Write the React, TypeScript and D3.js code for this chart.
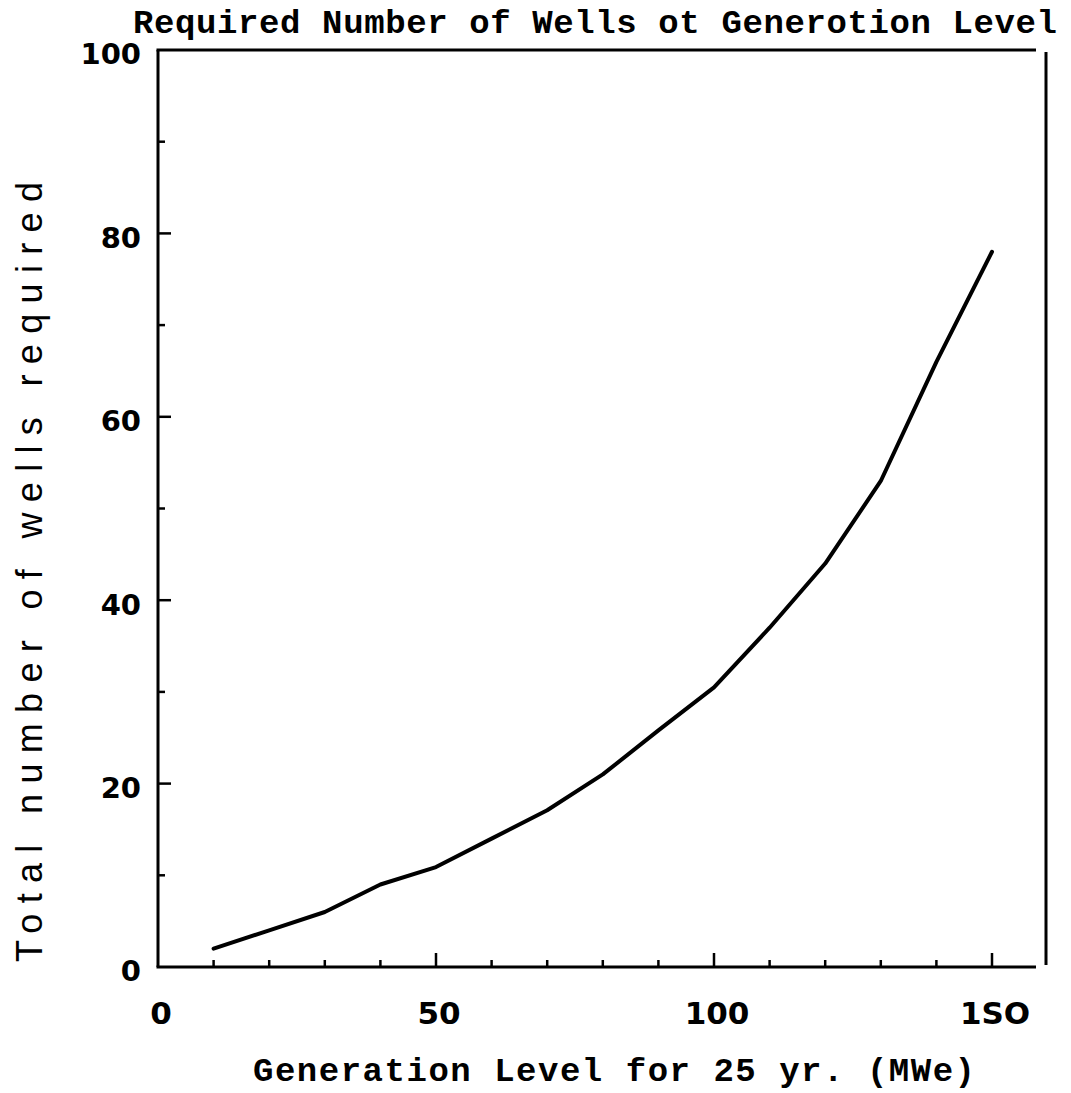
import { useEffect } from 'react';
import * as d3 from 'd3';

// Values (generation level in MWe -> wells required)
const generationLevels = [10, 20, 30, 40, 50, 60, 70, 80, 90, 100, 110, 120, 130, 140, 150];
const wellsRequired = [2.0, 4.0, 6.0, 9.0, 10.9, 14.0, 17.1, 21.0, 25.8, 30.5, 37.0, 44.0, 53.0, 66.0, 78.0];

const xMajorTicks = [0, 50, 100, 150];
const xTickLabels = ['0', '50', '100', '1SO'];
const xMinorTicks = [10, 20, 30, 40, 60, 70, 80, 90, 110, 120, 130, 140];

const yMajorTicks = [0, 20, 40, 60, 80, 100];
const yTickLabels = ['0', '20', '40', '60', '80', '100'];
const yMinorTicks = [10, 30, 50, 70, 90];

const title = 'Required Number of Wells ot Generotion Level';
const xTitle = 'Generation Level for 25 yr. (MWe)';
const yTitle = 'Total number of wells required';

const W = 1071;
const H = 1093;

export default function App() {
  useEffect(() => {
    document.body.style.margin = '0';
    document.body.style.overflow = 'hidden';
  }, []);

  const x = d3.scaleLinear().domain([0, 150]).range([158, 992]);
  const y = d3.scaleLinear().domain([0, 100]).range([967, 50]);

  const points = generationLevels.map((g, i) => ({ x: g, y: wellsRequired[i] }));
  const line = d3
    .line<{ x: number; y: number }>()
    .x((d) => x(d.x))
    .y((d) => y(d.y))
    .curve(d3.curveLinear);

  const ink = '#000';
  const monoFont = '"Liberation Mono", "DejaVu Sans Mono", monospace';
  const tickFont = '"DejaVu Sans", "Liberation Sans", sans-serif';

  const frameRight = 1036;
  const rightRule = 1046;

  return (
    <svg width={W} height={H} style={{ display: 'block', background: '#fff' }}>
      {/* title */}
      <text
        x={133}
        y={33}
        fontFamily={monoFont}
        fontWeight="bold"
        fontSize={34}
        fill={ink}
        textLength={924}
        lengthAdjust="spacing"
      >
        {title}
      </text>

      {/* frame: left axis, bottom axis, top rule, right rule */}
      <line x1={x(0)} x2={x(0)} y1={y(100)} y2={y(0)} stroke={ink} strokeWidth={3} />
      <line x1={x(0) - 1.5} x2={frameRight} y1={y(0)} y2={y(0)} stroke={ink} strokeWidth={3} />
      <line x1={x(0) - 1.5} x2={frameRight} y1={y(100)} y2={y(100)} stroke={ink} strokeWidth={3} />
      <line x1={rightRule} x2={rightRule} y1={y(100) + 2} y2={y(0) - 2} stroke={ink} strokeWidth={3} />

      {/* y ticks */}
      {yMajorTicks.filter((t) => t > 0 && t < 100).map((t) => (
        <line key={`ym-${t}`} x1={x(0)} x2={x(0) + 13} y1={y(t)} y2={y(t)} stroke={ink} strokeWidth={2.5} />
      ))}
      {yMinorTicks.map((t) => (
        <line key={`yn-${t}`} x1={x(0)} x2={x(0) + 7} y1={y(t)} y2={y(t)} stroke={ink} strokeWidth={2.5} />
      ))}
      {yMajorTicks.map((t, i) => (
        <text
          key={`yl-${t}`}
          x={141}
          y={y(t) + 4}
          dy="0.36em"
          textAnchor="end"
          fontFamily={tickFont}
          fontWeight="bold"
          fontSize={29}
          fill={ink}
        >
          {yTickLabels[i]}
        </text>
      ))}

      {/* x ticks */}
      {xMajorTicks.filter((t) => t > 0).map((t) => (
        <line key={`xm-${t}`} x1={x(t)} x2={x(t)} y1={y(0)} y2={y(0) - 14} stroke={ink} strokeWidth={2.5} />
      ))}
      {xMinorTicks.map((t) => (
        <line key={`xn-${t}`} x1={x(t)} x2={x(t)} y1={y(0)} y2={y(0) - 7} stroke={ink} strokeWidth={2.5} />
      ))}
      {xMajorTicks.map((t, i) => (
        <text
          key={`xl-${t}`}
          x={x(t) + 3}
          y={1013}
          dy="0.36em"
          textAnchor="middle"
          fontFamily={tickFont}
          fontWeight="bold"
          fontSize={31}
          fill={ink}
        >
          {xTickLabels[i]}
        </text>
      ))}

      {/* curve */}
      <path
        d={line(points) ?? undefined}
        fill="none"
        stroke={ink}
        strokeWidth={4}
        strokeLinejoin="round"
        strokeLinecap="round"
      />

      {/* axis titles */}
      <text
        x={253}
        y={1081}
        fontFamily={monoFont}
        fontWeight="bold"
        fontSize={34}
        fill={ink}
        textLength={722}
        lengthAdjust="spacing"
      >
        {xTitle}
      </text>
      <text
        transform={`translate(42, 962) rotate(-90)`}
        x={0}
        y={0}
        fontFamily='"Liberation Sans", Arial, sans-serif'
        fontSize={36}
        fill={ink}
        textLength={780}
        lengthAdjust="spacing"
      >
        {yTitle}
      </text>
    </svg>
  );
}
